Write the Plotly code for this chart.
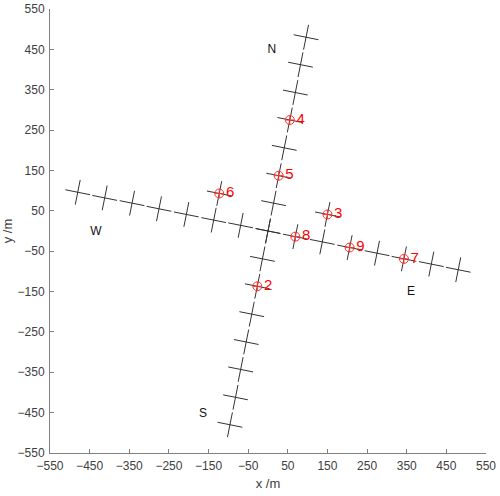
import plotly.graph_objects as go

# survey line stations (m)
ns_x = [-96, -82, -69, -55, -41, -27, -14, 0, 14, 27, 41, 55, 69, 82, 96]
ns_y = [-480, -412, -343, -275, -206, -137, -69, 0, 69, 137, 206, 275, 343, 412, 480]
we_x = [-480, -412, -343, -275, -206, -137, -69, 0, 69, 137, 206, 275, 343, 412, 480]
we_y = [96, 82, 69, 55, 41, 27, 14, 0, -14, -27, -41, -55, -69, -82, -96]
extra_x = [-123, 150]
extra_y = [93, 41]

# numbered points
pt_label = ["2", "3", "4", "5", "6", "7", "8", "9"]
pt_x = [-27, 150, 55, 27, -123, 343, 69, 206]
pt_y = [-137, 41, 275, 137, 93, -69, -14, -41]

# direction labels
dir_label = ["N", "W", "S", "E"]
dir_x = [10, -434, -164, 361]
dir_y = [448, -3, -454, -152]

ticks = [-550, -450, -350, -250, -150, -50, 50, 150, 250, 350, 450, 550]
rot = 11.3
font = "Liberation Sans, Arial, sans-serif"

cross = dict(symbol="cross-thin-open", size=18, angle=rot, color="#333333",
             line=dict(color="#333333", width=1))

fig = go.Figure()
for xs, ys in [(ns_x, ns_y), (we_x, we_y), (extra_x, extra_y)]:
    fig.add_trace(go.Scatter(x=xs, y=ys, mode="markers", marker=cross))

fig.add_trace(go.Scatter(
    x=pt_x, y=pt_y, mode="markers+text", text=pt_label,
    textposition="middle right",
    textfont=dict(color="#ff0000", size=15, family=font),
    marker=dict(symbol="circle-cross-open", size=9, color="#ff3030",
                line=dict(color="#ff3030", width=1))))

fig.add_trace(go.Scatter(
    x=dir_x, y=dir_y, mode="text", text=dir_label,
    textfont=dict(color="#111111", size=12, family=font)))

axis = dict(range=[-550, 550], tickvals=ticks, ticks="inside", ticklen=4,
            tickcolor="#808080", showline=True, linecolor="#808080",
            linewidth=1, showgrid=False, zeroline=False, mirror=False,
            automargin=False, ticklabeloverflow="allow",
            ticklabelstandoff=2,
            tickfont=dict(size=12, color="#404040", family=font))

fig.update_layout(
    width=500, height=496, showlegend=False,
    plot_bgcolor="white", paper_bgcolor="white",
    margin=dict(l=50, r=14, t=9, b=43),
    font=dict(family=font),
    xaxis=dict(axis, title=dict(text="x /m", standoff=6,
                                font=dict(size=13, color="#404040"))),
    yaxis=dict(axis, title=dict(text="y /m", standoff=6,
                                font=dict(size=13, color="#404040"))),
)

# drop the page's default body margin so the figure sits at the corner
fig.write_html("out.html", config={"displayModeBar": False},
               post_script="document.body.style.margin='0';")
